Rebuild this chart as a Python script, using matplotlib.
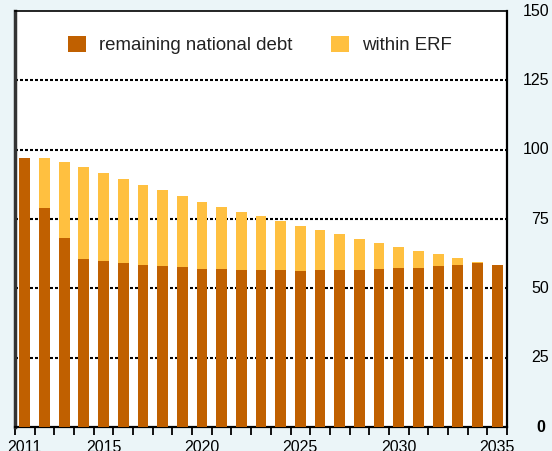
import matplotlib
matplotlib.use("Agg")
import matplotlib.pyplot as plt
import matplotlib.transforms as mtransforms
import numpy as np

plt.rcParams['font.family'] = ['Liberation Sans', 'DejaVu Sans']

years = list(range(2011, 2036))
total = [97.1, 97.1, 95.6, 93.8, 91.6, 89.4, 87.3, 85.5, 83.3, 81.1, 79.3, 77.5, 76.1,
         74.3, 72.3, 71.0, 69.6, 67.8, 66.4, 64.9, 63.5, 62.4, 60.9, 59.5, 58.4]
remaining = [97.1, 79.0, 68.2, 60.6, 59.9, 59.1, 58.4, 58.1, 57.7, 57.0, 57.0, 56.6, 56.6,
             56.6, 56.3, 56.6, 56.6, 56.6, 57.0, 57.3, 57.3, 58.1, 58.4, 59.1, 58.4]
within_erf = [t - r for t, r in zip(total, remaining)]
xtick_years = [2011, 2015, 2020, 2025, 2030, 2035]
yticks = [0, 25, 50, 75, 100, 125, 150]

dark = '#C06000'
light = '#FFC040'
bg = '#EBF5F8'

fig = plt.figure(figsize=(5.52, 4.51), dpi=100, facecolor=bg)
ax = fig.add_axes([15/552, 1-427/451, 492/552, 416/451])
ax.set_facecolor('white')

x = np.arange(len(years))
w = 0.55
ax.bar(x, remaining, width=w, color=dark, zorder=3, label='remaining national debt')
ax.bar(x, within_erf, width=w, bottom=remaining, color=light, zorder=3, label='within ERF')

ax.set_xlim(-0.5, len(years) - 0.5)
ax.set_ylim(0, 150)

for yv in yticks[1:-1]:
    ax.axhline(yv, color='black', lw=1.5, linestyle=(0, (1.44, 0.96)), zorder=1)

# x ticks: marks at slot boundaries, labels at bar centres
ax.set_xticks(np.arange(len(years) + 1) - 0.5)
ax.set_xticklabels([])
ax.tick_params(axis='x', which='major', length=6, width=1.3, color='black', direction='out')
ax.set_xticks([years.index(y) for y in xtick_years], minor=True)
ax.set_xticklabels([str(y) for y in xtick_years], minor=True, fontsize=11.5)
ax.tick_params(axis='x', which='minor', length=0, pad=9)

ax.set_yticks([])
trans = mtransforms.blended_transform_factory(fig.transFigure, ax.transData)
for yv in yticks:
    if yv == 0:
        ax.text(545/552, yv, str(yv), transform=trans, ha='right', va='center',
                fontsize=11.5, fontweight='bold', clip_on=False)
    else:
        ax.text(549/552, yv, str(yv), transform=trans, ha='right', va='center',
                fontsize=11.5, clip_on=False)

ax.spines['left'].set_linewidth(2.5)
ax.spines['left'].set_color('#333333')
ax.spines['right'].set_linewidth(1.6)
ax.spines['top'].set_linewidth(1.2)
ax.spines['bottom'].set_linewidth(1.6)

leg = ax.legend(loc='center', bbox_to_anchor=(0.498, 0.918), ncol=2, frameon=False,
                fontsize=13.4, handlelength=0.97, handleheight=0.91, handletextpad=0.70,
                columnspacing=2.04)
for t in leg.get_texts():
    t.set_color('#222222')

fig.savefig('out.png', dpi=100, facecolor=bg)
